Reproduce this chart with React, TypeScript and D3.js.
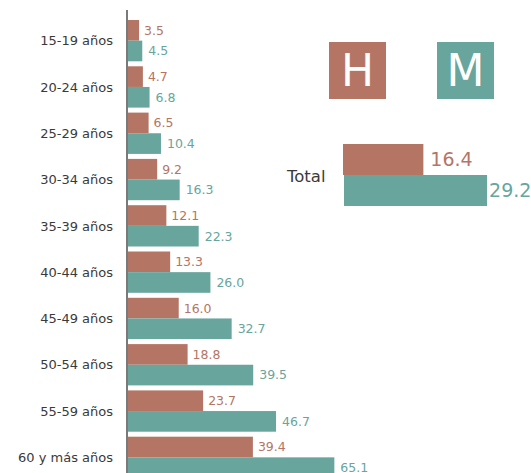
import React from "react";
import * as d3 from "d3";

const categories = [
  "15-19 años",
  "20-24 años",
  "25-29 años",
  "30-34 años",
  "35-39 años",
  "40-44 años",
  "45-49 años",
  "50-54 años",
  "55-59 años",
  "60 y más años",
];
const hombres = [3.5, 4.7, 6.5, 9.2, 12.1, 13.3, 16.0, 18.8, 23.7, 39.4];
const mujeres = [4.5, 6.8, 10.4, 16.3, 22.3, 26.0, 32.7, 39.5, 46.7, 65.1];
const totalH = 16.4;
const totalM = 29.2;
const seriesKeys = ["H", "M"];

const W = 531;
const H = 473;
const COL_H = "#B57565";
const COL_M = "#68A59D";
const FONT = "'DejaVu Sans', sans-serif";

export default function App() {
  const y = d3
    .scaleBand<string>()
    .domain(categories)
    .range([17.5, 17.5 + 463])
    .paddingInner(0.108)
    .paddingOuter(0.054);
  const sub = d3
    .scaleBand<string>()
    .domain(seriesKeys)
    .range([0, y.bandwidth()]);
  const x = d3.scaleLinear().domain([0, 70]).range([128, 128 + 70 * 3.17]);
  const xt = d3.scaleLinear().domain([0, 30]).range([343, 343 + 30 * 4.9]);
  const yt = d3.scaleBand<string>().domain(seriesKeys).range([144, 206]);
  const fmt = d3.format(".1f");

  const rows = categories.map((c, i) => ({ c, h: hombres[i], m: mujeres[i] }));

  return (
    <svg
      width={W}
      height={H}
      style={{ position: "absolute", left: 0, top: 0, background: "#fff" }}
      fontFamily={FONT}
    >
      <rect x={0} y={0} width={W} height={H} fill="#fff" />
      {rows.map((r) => {
        const y0 = y(r.c)!;
        const yh = y0 + sub("H")!;
        const ym = y0 + sub("M")!;
        const bh = sub.bandwidth();
        return (
          <g key={r.c}>
            <rect x={x(0)} y={yh} width={x(r.h) - x(0)} height={bh} fill={COL_H} />
            <rect x={x(0)} y={ym} width={x(r.m) - x(0)} height={bh} fill={COL_M} />
            <text
              x={x(r.h) + 5}
              y={yh + bh / 2}
              dy="0.35em"
              fontSize={12.5}
              fill={COL_H}
            >
              {fmt(r.h)}
            </text>
            <text
              x={x(r.m) + 6}
              y={ym + bh / 2}
              dy="0.35em"
              fontSize={12.5}
              fill={COL_M}
            >
              {fmt(r.m)}
            </text>
            <text
              x={113}
              y={y0 + y.bandwidth() / 2}
              dy="0.36em"
              textAnchor="end"
              fontSize={13}
              fill="#3a3a3a"
            >
              {r.c}
            </text>
          </g>
        );
      })}
      <line x1={127} x2={127} y1={10} y2={H} stroke="#7a7a7a" strokeWidth={2} />

      {/* legend */}
      <rect x={329} y={42} width={57} height={57} fill={COL_H} />
      <text x={357.5} y={70.5} dy="0.36em" textAnchor="middle" fontSize={44} fill="#fff">
        H
      </text>
      <rect x={437} y={42} width={57} height={57} fill={COL_M} />
      <text x={465.5} y={70.5} dy="0.36em" textAnchor="middle" fontSize={44} fill="#fff">
        M
      </text>

      {/* total */}
      <rect x={xt(0)} y={yt("H")!} width={xt(totalH) - xt(0)} height={yt.bandwidth()} fill={COL_H} />
      <rect x={xt(0) + 1} y={yt("M")!} width={xt(totalM) - xt(0)} height={yt.bandwidth()} fill={COL_M} />
      <text x={xt(totalH) + 7} y={yt("H")! + yt.bandwidth() / 2} dy="0.36em" fontSize={19} fill={COL_H}>
        {fmt(totalH)}
      </text>
      <text x={xt(totalM) + 3} y={yt("M")! + yt.bandwidth() / 2} dy="0.36em" fontSize={19} fill={COL_M}>
        {fmt(totalM)}
      </text>
      <text x={287} y={176} dy="0.36em" fontSize={16.5} fill="#3a3a3a">
        Total
      </text>
    </svg>
  );
}
